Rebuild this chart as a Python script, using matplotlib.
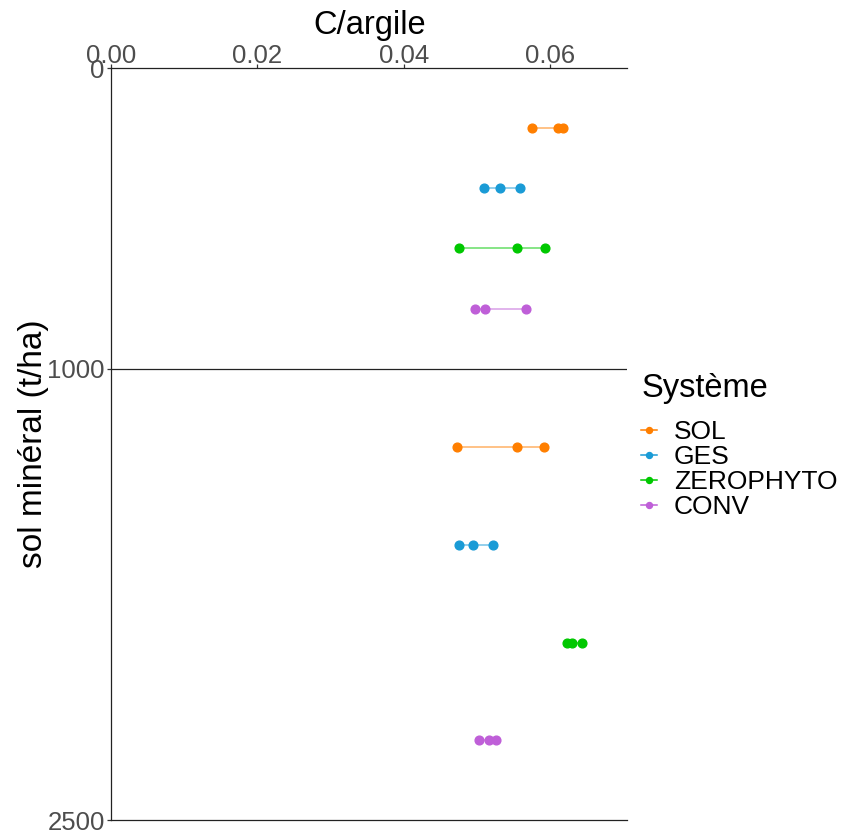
import numpy as np
import matplotlib.pyplot as plt
from matplotlib.lines import Line2D

plt.rcParams["font.family"] = ["Liberation Sans", "DejaVu Sans"]

systemes = ["SOL", "GES", "ZEROPHYTO", "CONV"]
couleurs = ["#FF7F00", "#1A9BD6", "#00C800", "#BF5FD8"]

# stock de sol minéral (t/ha) : deux groupes
stock_haut = [200, 400, 600, 800]
stock_bas = [1260, 1585, 1910, 2235]

# C/argile : trois valeurs par système
c_argile_haut = {
    "SOL": [0.0575, 0.0611, 0.0617],
    "GES": [0.0509, 0.0531, 0.0559],
    "ZEROPHYTO": [0.0475, 0.0555, 0.0593],
    "CONV": [0.0498, 0.0511, 0.0567],
}
c_argile_bas = {
    "SOL": [0.0473, 0.0555, 0.0592],
    "GES": [0.0476, 0.0494, 0.0522],
    "ZEROPHYTO": [0.0623, 0.0630, 0.0643],
    "CONV": [0.0503, 0.0517, 0.0526],
}

W, H = 841, 832
fig = plt.figure(figsize=(W / 100, H / 100), dpi=100)
ax = fig.add_axes([111 / W, 12 / H, (627 - 111) / W, (820 - 68) / H])

for i, sys_name in enumerate(systemes):
    for stock, vals in ((stock_haut[i], c_argile_haut[sys_name]),
                        (stock_bas[i], c_argile_bas[sys_name])):
        y = np.full(len(vals), stock)
        ax.plot(vals, y, color=couleurs[i], linewidth=1.1, alpha=0.6, zorder=2)
        ax.plot(vals, y, linestyle="none", marker="o", markersize=6.3,
                color=couleurs[i], zorder=3)

ax.axhline(1000, color="#222222", linewidth=0.9, zorder=1)

ax.set_xlim(0, 0.0705)
ax.set_ylim(2500, 0)

ax.xaxis.tick_top()
ax.set_xticks([0.0, 0.02, 0.04, 0.06])
ax.set_xticklabels(["0.00", "0.02", "0.04", "0.06"])
ax.set_yticks([0, 1000, 2500])
ax.set_yticklabels(["0", "1000", "2500"])

ax.tick_params(axis="both", labelsize=18.5, labelcolor="#4D4D4D",
               color="#333333", length=3, width=0.9, pad=1.5)
ax.tick_params(axis="x", pad=-3)

# titre de l'axe x (en haut) placé sur sa ligne de base
fig.text(370 / W, 1 - 34 / H, "C/argile", fontsize=23.5, ha="center", va="baseline")
ax.set_ylabel("sol minéral (t/ha)", fontsize=24, labelpad=-1)

for side in ["left", "top", "bottom"]:
    ax.spines[side].set_color("#222222")
    ax.spines[side].set_linewidth(0.9)
ax.spines["right"].set_visible(False)

fig.text(642 / W, 1 - 397 / H, "Système", fontsize=23.5, ha="left", va="baseline")

handles = [
    Line2D([0], [0], color=c, marker="o", markersize=4.3, linewidth=1.1, label=s)
    for s, c in zip(systemes, couleurs)
]
leg = fig.legend(handles=handles, loc="upper left",
                 bbox_to_anchor=(641 / W, 1 - 420 / H), frameon=False,
                 fontsize=19, handlelength=0.6, handletextpad=0.65,
                 labelspacing=0.04, borderaxespad=0, borderpad=0)

fig.savefig("out.png", dpi=100)
